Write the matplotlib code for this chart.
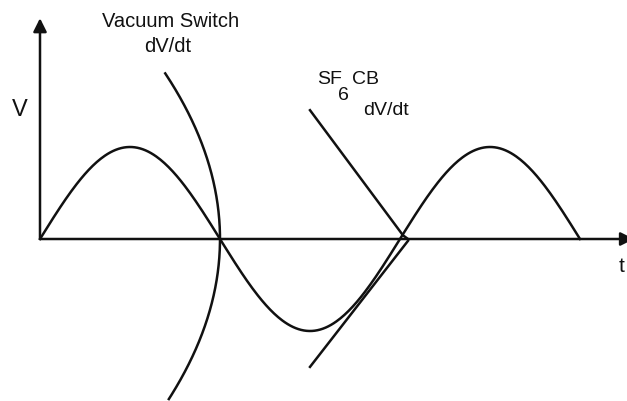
import numpy as np
from matplotlib import pyplot as plt

# ==============================================================================
#                                                                          DATA
# ==============================================================================
# time axis in electrical degrees, voltage in per-unit of the peak
t_start, t_end = 0, 540          # 1.5 cycles of the source voltage
v_peak = 1.0

# vacuum switch recovery curve: vertex at current zero, opens to the left
vac_zero = (180, 0.0)
vac_curv = 16.9                  # degrees per (p.u.)^2
vac_v = (1.80, -1.74)

# SF6 breaker dV/dt lines (degrees, p.u.)
sf6_down_t = [270, 363, 368]
sf6_down_v = [1.40, 0.04, 0.0]
sf6_up_t = [368, 270]
sf6_up_v = [-0.02, -1.39]

COLOR = "#111111"
LW = 1.8

# ==============================================================================
#                                                                          PLOT
# ==============================================================================
fig = plt.figure(figsize=(6.27, 4.02), dpi=100)
ax = fig.add_axes([0, 0, 1, 1])
ax.set_xlim(-40, 587)
ax.set_ylim(-162 / 92.0, 240 / 92.0)
ax.axis("off")

# source voltage
t = np.linspace(t_start, t_end, 400)
ax.plot(t, v_peak * np.sin(np.radians(t)), color=COLOR, lw=LW)

# vacuum switch dV/dt
v = np.linspace(vac_v[0], vac_v[1], 300)
ax.plot(vac_zero[0] - vac_curv * (v - vac_zero[1]) ** 2, v, color=COLOR, lw=LW)

# SF6 CB dV/dt
ax.plot(sf6_down_t, sf6_down_v, color=COLOR, lw=LW)
ax.plot(sf6_up_t, sf6_up_v, color=COLOR, lw=LW)

# axes with arrows
arrow = dict(arrowstyle="-|>", lw=LW, color=COLOR, mutation_scale=20,
             shrinkA=0, shrinkB=0)
ax.annotate("", xy=(0, 2.40), xytext=(0, 0), arrowprops=arrow,
            annotation_clip=False)
ax.annotate("", xy=(594, 0), xytext=(0, 0), arrowprops=arrow,
            annotation_clip=False)

font = dict(family="Liberation Sans", color=COLOR)
ax.text(-20, 1.41, "V", fontsize=17, ha="center", va="center", **font)
ax.text(579, -0.29, "t", fontsize=15, ha="left", va="center", **font)

ax.text(131, 2.37, "Vacuum Switch", fontsize=14.5, ha="center", va="center",
        **font)
ax.text(128, 2.10, "dV/dt", fontsize=14.5, ha="center", va="center", **font)

ax.text(277, 1.74, "SF", fontsize=14, ha="left", va="center", **font)
ax.text(298, 1.57, "6", fontsize=14, ha="left", va="center", **font)
ax.text(312, 1.74, "CB", fontsize=14, ha="left", va="center", **font)
ax.text(323, 1.41, "dV/dt", fontsize=14, ha="left", va="center", **font)

plt.savefig("out.png", dpi=100, facecolor="white")
